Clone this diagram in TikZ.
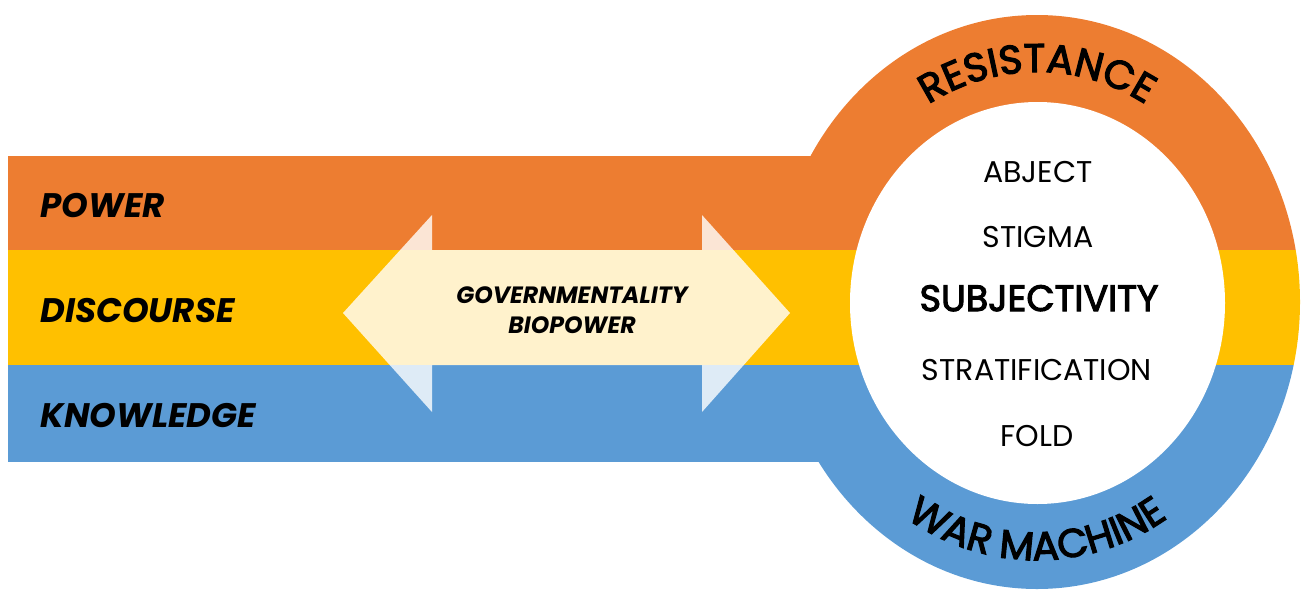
\documentclass[tikz,border=0pt]{standalone}
\usepackage{fontspec}
\setmainfont{Poppins}
\newfontfamily\medfam{Poppins}[FakeBold=3]
\usetikzlibrary{decorations.text}
\definecolor{orng}{HTML}{ED7D31}
\definecolor{yllw}{HTML}{FFC000}
\definecolor{blu}{HTML}{5B9BD5}
\newcommand{\arcfnt}{\medfam\fontsize{20}{22}\selectfont}
\begin{document}
\begin{tikzpicture}[x=0.5pt,y=0.5pt,
  lbl/.style={font=\fontsize{17}{20}\selectfont\bfseries\itshape, anchor=base west, inner sep=0pt},
  inw/.style={font=\fontsize{15}{17}\selectfont, anchor=base, inner sep=0pt},
  insubj/.style={font=\medfam\fontsize{18.3}{20}\selectfont, anchor=base, inner sep=0pt},
  arw/.style={font=\fontsize{11.8}{13}\selectfont\bfseries\itshape, anchor=base, inner sep=0pt},
  arctext/.style={decorate, decoration={text along path, text align=center, text={#1}}}
]
\useasboundingbox (0,0) rectangle (1307,-590);
\coordinate (C) at (1037,-302);
\begin{scope}
  \clip (C) ellipse [x radius=263, y radius=287];
  \fill[orng] (760,10) rectangle (1310,-250);
  \fill[yllw] (760,-250) rectangle (1310,-365);
  \fill[blu] (760,-365) rectangle (1310,-600);
\end{scope}
\fill[orng] (8,-156) rectangle (1037,-250);
\fill[yllw] (8,-250) rectangle (1037,-365);
\fill[blu] (8,-365) rectangle (1037,-462);
\fill[white] (1037.5,-303) ellipse [x radius=187.5, y radius=201];
% double arrow
\fill[white, fill opacity=0.8] (343,-313) -- (432,-215) -- (432,-250) -- (702,-250) -- (702,-215)
  -- (790,-313) -- (702,-412) -- (702,-365) -- (432,-365) -- (432,-412) -- cycle;
% labels
\node[lbl] (power) at (40,-217) {POWER};
\node[lbl] (disc) at (40,-322) {DISCOURSE};
\node[lbl] (know) at (40,-427) {KNOWLEDGE};
\node[arw] (gov) at (572,-303) {GOVERNMENTALITY};
\node[arw] (bio) at (572,-333) {BIOPOWER};
\node[inw] (abj) at (1038,-182) {ABJECT};
\node[inw] (stig) at (1038,-247) {STIGMA};
\node[insubj] (subj) at (1039,-311) {SUBJECTIVITY};
\node[inw] (strat) at (1037,-380) {STRATIFICATION};
\node[inw] (fold) at (1037,-446) {FOLD};
% ring texts
\path[arctext={|\arcfnt|RESISTANCE}] (C) ++(180:212 and 230) arc[start angle=180, end angle=0, x radius=212, y radius=230];
\path[arctext={|\arcfnt|WAR MACHINE}] (C) ++(180:239 and 258) arc[start angle=180, end angle=360, x radius=239, y radius=258];
\end{tikzpicture}
\end{document}
